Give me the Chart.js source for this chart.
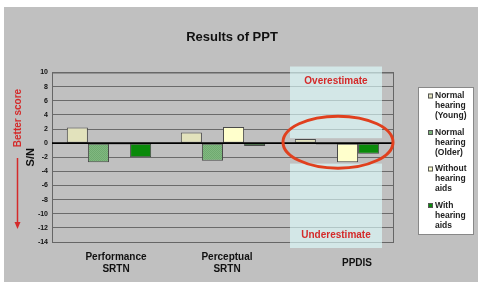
<!DOCTYPE html>
<html><head><meta charset="utf-8">
<script src="https://cdn.jsdelivr.net/npm/chart.js@4"></script>
<style>html,body{margin:0;padding:0;background:#fff;}#wrap{width:487px;height:289px;position:relative;}</style>
</head><body><div id="wrap"><canvas id="c" width="487" height="289"></canvas></div>
<script>
const chartTitle = "Results of PPT";
const categories = [["Performance", "SRTN"], ["Perceptual", "SRTN"], ["PPDIS"]];
const seriesNames = [["Normal", "hearing", "(Young)"], ["Normal", "hearing", "(Older)"], ["Without", "hearing", "aids"], ["With", "hearing", "aids"]];
const normalYoung = [2.2, 1.5, 0.6];
const normalOlder = [-2.7, -2.5, -0.2];
const withoutAids = [-0.2, 2.3, -2.7];
const withAids = [-2.0, -0.4, -1.5];
const yMin = -14, yMax = 10, yStep = 2;
const yAxisLabel = "S/N";
const sideLabel = "Better score";
const overLabel = "Overestimate";
const underLabel = "Underestimate";

const FONT = '"Liberation Sans", Arial, sans-serif';

// hatch pattern for the "older" series
function makePattern() {
  const p = document.createElement('canvas');
  p.width = 2; p.height = 2;
  const g = p.getContext('2d');
  g.fillStyle = '#80b880'; g.fillRect(0, 0, 2, 2);
  g.fillStyle = '#70aa70'; g.fillRect(0, 0, 1, 1); g.fillRect(1, 1, 1, 1);
  return g.createPattern(p, 'repeat');
}
const ctx = document.getElementById('c').getContext('2d');
const olderFill = makePattern();
const fills = ['#e2e2bc', olderFill, '#ffffcc', '#0a8a0a'];
const seriesData = [normalYoung, normalOlder, withoutAids, withAids];

const decor = {
  id: 'decor',
  beforeDraw(chart) {
    const c = chart.ctx;
    c.save();
    c.fillStyle = '#ffffff';
    c.fillRect(0, 0, chart.width, chart.height);
    c.fillStyle = '#c0c0c0';
    c.fillRect(4, 7, 474, 275);
    c.restore();
  },
  afterDatasetsDraw(chart) {
    const c = chart.ctx;
    const a = chart.chartArea;
    const xs = chart.scales.x, ys = chart.scales.y;
    c.save();
    // plot frame
    c.strokeStyle = '#666';
    c.lineWidth = 1;
    c.strokeRect(a.left + 0.5, a.top + 0.5, a.right - a.left - 1, a.bottom - a.top);
    // zero line
    c.strokeStyle = '#000';
    c.lineWidth = 1.6;
    const y0 = ys.getPixelForValue(0);
    c.beginPath(); c.moveTo(a.left, y0); c.lineTo(a.right, y0); c.stroke();

    // highlight region around the third category
    const cx = xs.getPixelForValue(2);
    const bx = cx - 47, bw = 92;
    c.fillStyle = 'rgba(222,255,255,0.62)';
    c.fillRect(bx, a.top - 6, bw, ys.getPixelForValue(0.7) - (a.top - 6));
    c.fillRect(bx, ys.getPixelForValue(-2.9), bw, a.bottom + 6 - ys.getPixelForValue(-2.9));

    c.fillStyle = '#d42a2a';
    c.font = 'bold 10px ' + FONT;
    c.textAlign = 'center'; c.textBaseline = 'middle';
    c.fillText(overLabel, cx - 1, ys.getPixelForValue(8.8));
    c.fillText(underLabel, cx - 1, ys.getPixelForValue(-13.1));

    // red ellipse
    c.strokeStyle = '#e0401e';
    c.lineWidth = 3;
    c.beginPath();
    c.ellipse(cx + 1, y0 - 1, 55, 26, 0, 0, Math.PI * 2);
    c.stroke();

    // title
    c.fillStyle = '#111';
    c.font = 'bold 13px ' + FONT;
    c.fillText(chartTitle, 232, 37);

    // x category labels
    c.font = 'bold 10px ' + FONT;
    c.fillStyle = '#111';
    const nudge = [7, 4, 20];
    categories.forEach((lab, i) => {
      const px = xs.getPixelForValue(i) + nudge[i];
      const n = lab.length;
      lab.forEach((line, j) => {
        c.fillText(line, px, 263 + (j - (n - 1) / 2) * 12);
      });
    });

    // side label and arrow
    c.save();
    c.translate(18, 118);
    c.rotate(-Math.PI / 2);
    c.fillStyle = '#d42a2a';
    c.font = 'bold 10px ' + FONT;
    c.fillText(sideLabel, 0, 0);
    c.restore();
    c.strokeStyle = '#d42a2a';
    c.fillStyle = '#d42a2a';
    c.lineWidth = 1.5;
    c.beginPath(); c.moveTo(17.5, 158); c.lineTo(17.5, 224); c.stroke();
    c.beginPath(); c.moveTo(14.5, 222); c.lineTo(20.5, 222); c.lineTo(17.5, 229); c.closePath(); c.fill();

    // legend
    const lx = 418, ly = 87, lw = 55, lh = 147;
    c.fillStyle = '#ffffff';
    c.fillRect(lx, ly, lw, lh);
    c.strokeStyle = '#888';
    c.lineWidth = 1;
    c.strokeRect(lx + 0.5, ly + 0.5, lw, lh);
    c.font = 'bold 8.5px ' + FONT;
    c.textAlign = 'left';
    chart.data.datasets.forEach((ds, i) => {
      const top = 96 + i * 36.5;
      c.fillStyle = ds.backgroundColor;
      c.fillRect(428, top - 2.5, 5, 5);
      c.strokeStyle = '#555';
      c.strokeRect(428.5, top - 2, 4, 4);
      c.fillStyle = '#222';
      seriesNames[i].forEach((line, j) => c.fillText(line, 435, top + j * 10));
    });
    c.restore();
  }
};

const yTickValues = [];
for (let v = yMax; v >= yMin; v -= yStep) yTickValues.push(v);

new Chart(ctx, {
  type: 'bar',
  data: {
    labels: categories.map(l => l.join(' ')),
    datasets: seriesData.map((d, i) => ({
      label: seriesNames[i].join(' '),
      data: d,
      backgroundColor: fills[i],
      borderColor: '#4a4a4a',
      borderWidth: 1,
      borderSkipped: false,
      categoryPercentage: 0.74,
      barPercentage: 1.0
    }))
  },
  options: {
    responsive: false,
    devicePixelRatio: 1,
    animation: false,
    layout: { padding: { left: 0, right: 93, top: 72.5, bottom: 0 } },
    plugins: { legend: { display: false }, title: { display: false }, tooltip: { enabled: false } },
    scales: {
      x: {
        grid: { display: false },
        border: { display: false },
        ticks: { display: false },
        afterFit(s) { s.height = 47; }
      },
      y: {
        min: yMin, max: yMax,
        afterBuildTicks(s) { s.ticks = yTickValues.map(v => ({ value: v })); },
        ticks: { color: '#111', font: { family: FONT, size: 7, weight: 'bold' }, padding: 4 },
        grid: { color: '#6a6a6a', lineWidth: 1, drawTicks: false },
        border: { display: false },
        title: { display: true, text: yAxisLabel, color: '#111', font: { family: FONT, size: 11, weight: 'bold' }, padding: { top: 24, bottom: 0 } },
        afterFit(s) { s.width = 52; }
      }
    }
  },
  plugins: [decor]
});
</script>
</body></html>
